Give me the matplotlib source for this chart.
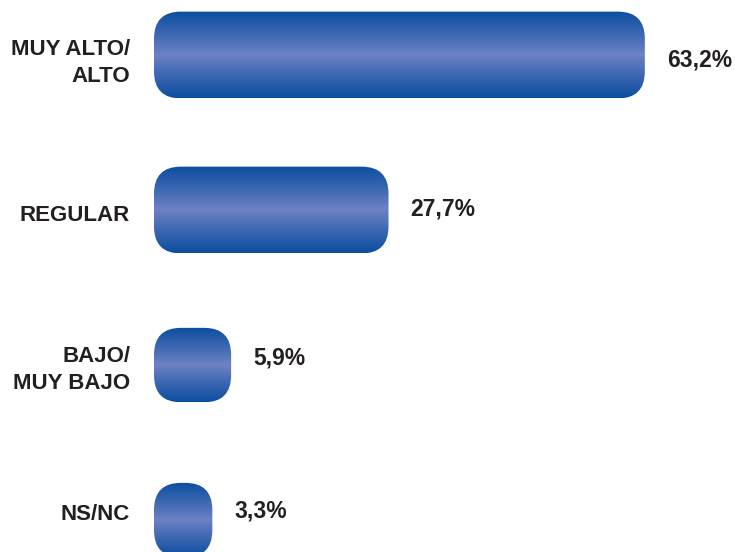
import numpy as np
import matplotlib
matplotlib.use("Agg")
import matplotlib.pyplot as plt
from matplotlib.patches import FancyBboxPatch
from matplotlib.colors import LinearSegmentedColormap

categories = ["MUY ALTO/\nALTO", "REGULAR", "BAJO/\nMUY BAJO", "NS/NC"]
values = [63.2, 27.7, 5.9, 3.3]
value_labels = ["63,2%", "27,7%", "5,9%", "3,3%"]

# bar thickness (in category units) and rounded cap
bar_heights = [0.56, 0.56, 0.48, 0.48]
cap = 4.78          # rounded start that sits left of zero
corner_px = 27
label_dy = [-8, -5, -5, 6]     # pixel nudges, negative = down
value_dy = [-5, 1, 7, 9]

plt.rcParams['font.family'] = ['Liberation Sans', 'DejaVu Sans']
text_color = '#231f20'

fig = plt.figure(figsize=(7.35, 5.52), dpi=100)
ax = fig.add_axes([0, 0, 1, 1])
ax.set_xlim(-26.11, 75.69)
ax.set_ylim(3.206, -0.355)
ax.axis('off')

blue = LinearSegmentedColormap.from_list(
    'blue', ['#0c4e9e', '#3a66b2', '#6d82c3', '#3a66b2', '#0c4e9e'])
grad = np.linspace(0, 1, 256).reshape(-1, 1)

# pixels per data unit, used to keep the corners circular
fig.canvas.draw()
p0 = ax.transData.transform((0, 0))
p1 = ax.transData.transform((1, 1))
px_x = abs(p1[0] - p0[0])
px_y = abs(p1[1] - p0[1])

for i, (v, h) in enumerate(zip(values, bar_heights)):
    x0, x1 = -cap, v
    y0 = i - h / 2
    r_px = min(corner_px, (x1 - x0) * px_x / 2, h * px_y / 2)
    patch = FancyBboxPatch((x0, y0), x1 - x0, h,
                           boxstyle=f"round,pad=0,rounding_size={r_px / px_x}",
                           mutation_aspect=px_x / px_y,
                           facecolor='none', edgecolor='none')
    ax.add_patch(patch)
    im = ax.imshow(grad, cmap=blue, aspect='auto', interpolation='bilinear',
                   extent=[x0, x1, i + h / 2, i - h / 2])
    im.set_clip_path(patch)

    ax.annotate(categories[i], xy=(x0, i), xytext=(-24, label_dy[i]),
                textcoords='offset pixels', ha='right', va='center',
                fontsize=16, fontweight='bold', color=text_color,
                linespacing=1.4)
    ax.annotate(value_labels[i], xy=(v, i), xytext=(22, value_dy[i]),
                textcoords='offset pixels', ha='left', va='center',
                fontsize=16.5, fontweight='bold', color=text_color)

fig.savefig('out.png', dpi=100)
